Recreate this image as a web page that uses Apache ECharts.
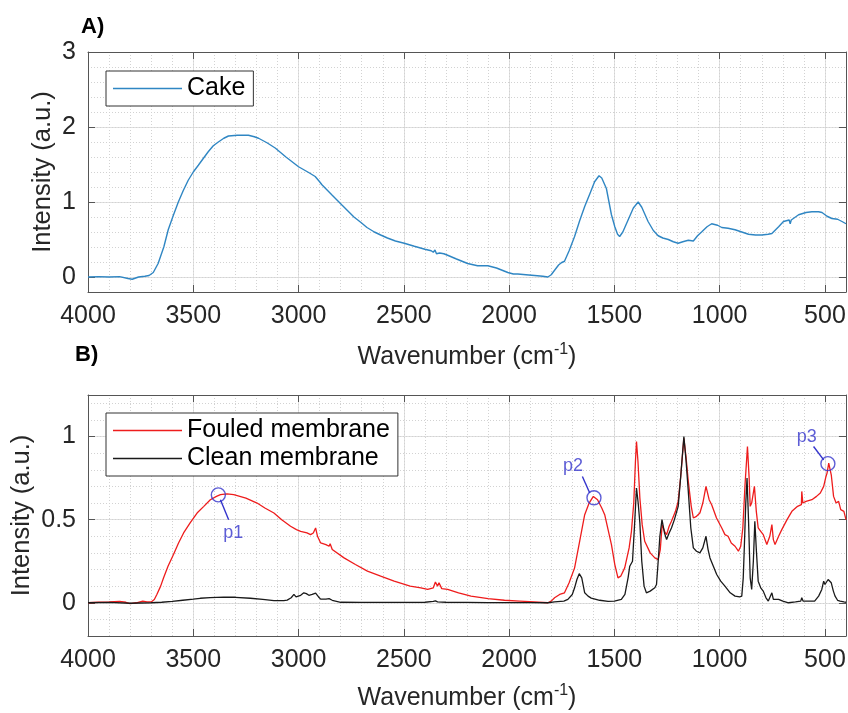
<!DOCTYPE html>
<html>
<head>
<meta charset="utf-8">
<script src="https://cdn.jsdelivr.net/npm/echarts@6.0.0/dist/echarts.min.js"></script>
<style>
html,body{margin:0;padding:0;background:#fff;}
#chart{width:848px;height:713px;}
</style>
</head>
<body>
<div id="chart"></div>
<script>
// ---------- DATA ----------
const xTickLabels = [4000, 3500, 3000, 2500, 2000, 1500, 1000, 500];
const yTickLabelsA = [0, 1, 2, 3];
const yTickLabelsB = [0, 0.5, 1];

// Panel A: Cake
const cakeX = [4000,3950,3900,3850,3810,3790,3760,3730,3710,3690,3667,3640,3619,3595,3571,3548,3524,3500,3476,3450,3429,3405,3381,3355,3333,3290,3238,3210,3190,3150,3111,3060,3000,2950,2921,2900,2889,2840,2794,2737,2705,2675,2640,2610,2578,2540,2498,2450,2400,2370,2360,2352,2345,2338,2330,2310,2292,2250,2197,2150,2101,2060,2006,1980,1959,1920,1879,1840,1816,1800,1784,1765,1752,1737,1715,1689,1665,1641,1615,1594,1573,1560,1538,1514,1498,1485,1475,1460,1435,1410,1387,1370,1340,1315,1292,1270,1244,1220,1197,1175,1149,1125,1105,1086,1060,1038,1010,990,960,927,895,863,830,800,770,752,720,697,670,665,660,625,590,562,530,514,490,467,440,419,400];
const cakeY = [0.00,0.005,0.0,0.005,-0.02,-0.03,0.0,0.01,0.02,0.06,0.18,0.40,0.63,0.82,1.00,1.15,1.29,1.40,1.49,1.59,1.67,1.75,1.80,1.85,1.88,1.89,1.89,1.87,1.85,1.79,1.72,1.60,1.47,1.39,1.34,1.27,1.23,1.09,0.96,0.80,0.73,0.66,0.60,0.56,0.52,0.48,0.45,0.41,0.37,0.35,0.33,0.36,0.31,0.33,0.32,0.31,0.29,0.24,0.18,0.15,0.15,0.12,0.06,0.04,0.04,0.03,0.02,0.01,0.0,0.03,0.09,0.16,0.19,0.21,0.35,0.54,0.75,0.94,1.12,1.27,1.35,1.32,1.18,0.83,0.67,0.57,0.54,0.60,0.76,0.92,1.00,0.93,0.74,0.62,0.55,0.52,0.50,0.47,0.45,0.47,0.49,0.48,0.55,0.60,0.67,0.71,0.69,0.66,0.65,0.63,0.60,0.57,0.56,0.56,0.57,0.58,0.67,0.74,0.76,0.71,0.76,0.83,0.86,0.87,0.87,0.86,0.81,0.78,0.77,0.74,0.71];

// Panel B: Fouled membrane
const fouledX = [4000,3950,3900,3850,3820,3800,3770,3740,3720,3700,3685,3673,3655,3641,3620,3594,3570,3546,3515,3482,3450,3419,3390,3371,3340,3308,3250,3197,3160,3117,3080,3038,3010,2990,2960,2943,2930,2919,2910,2895,2870,2855,2850,2840,2784,2730,2673,2610,2546,2470,2419,2387,2360,2350,2340,2333,2320,2292,2240,2181,2100,2022,1950,1880,1816,1800,1784,1760,1737,1715,1689,1665,1641,1620,1600,1580,1560,1546,1530,1514,1498,1483,1470,1451,1430,1419,1408,1400,1395,1388,1379,1368,1356,1330,1308,1292,1282,1273,1262,1252,1240,1229,1210,1197,1185,1170,1160,1149,1135,1125,1110,1094,1080,1065,1050,1038,1015,990,975,960,945,927,911,900,890,880,868,860,855,848,835,826,817,805,793,776,762,752,745,737,720,705,680,657,630,612,610,605,590,562,540,522,515,506,495,490,482,470,459,447,435,425,410,400];
const fouledY = [0,0.003,0.005,0.008,0.003,-0.005,0.0,0.01,0.005,0.005,0.02,0.05,0.10,0.15,0.22,0.29,0.36,0.42,0.48,0.54,0.58,0.62,0.64,0.65,0.655,0.65,0.63,0.60,0.57,0.54,0.50,0.46,0.44,0.43,0.42,0.41,0.42,0.45,0.40,0.36,0.35,0.34,0.355,0.32,0.27,0.23,0.19,0.16,0.13,0.10,0.09,0.08,0.09,0.125,0.10,0.12,0.085,0.08,0.06,0.04,0.025,0.015,0.01,0.005,0.0,0.01,0.03,0.05,0.06,0.12,0.21,0.37,0.53,0.60,0.64,0.62,0.57,0.53,0.44,0.35,0.23,0.15,0.16,0.21,0.33,0.43,0.60,0.85,0.97,0.85,0.63,0.47,0.37,0.30,0.27,0.26,0.32,0.47,0.43,0.41,0.46,0.49,0.55,0.61,0.76,0.99,0.88,0.73,0.58,0.51,0.52,0.54,0.60,0.70,0.62,0.59,0.51,0.45,0.41,0.40,0.36,0.34,0.31,0.34,0.45,0.70,0.94,0.75,0.58,0.60,0.70,0.55,0.45,0.43,0.41,0.35,0.40,0.47,0.38,0.35,0.40,0.44,0.50,0.55,0.58,0.59,0.67,0.60,0.61,0.62,0.64,0.66,0.65,0.70,0.76,0.78,0.84,0.77,0.64,0.60,0.61,0.56,0.55,0.50];

// Panel B: Clean membrane
const cleanX = [4000,3900,3800,3700,3650,3600,3550,3500,3467,3420,3355,3300,3229,3170,3117,3070,3054,3035,3022,3012,3006,2990,2975,2963,2951,2935,2919,2905,2895,2870,2855,2848,2840,2832,2800,2700,2600,2500,2400,2360,2350,2340,2300,2200,2100,2000,1900,1816,1784,1740,1721,1700,1689,1678,1667,1655,1641,1625,1610,1570,1530,1500,1467,1450,1435,1427,1414,1405,1395,1387,1379,1370,1359,1348,1330,1308,1300,1292,1284,1274,1262,1252,1240,1229,1215,1197,1185,1170,1160,1149,1137,1125,1110,1094,1080,1065,1055,1046,1030,1014,995,975,950,927,905,895,888,883,876,870,863,855,848,840,833,825,817,805,793,780,769,760,752,745,720,700,673,640,615,610,604,570,549,530,515,506,500,495,485,480,470,460,452,440,428,410,400];
const cleanY = [0,0.002,-0.003,0.0,0.003,0.008,0.015,0.022,0.027,0.031,0.034,0.033,0.027,0.02,0.013,0.013,0.016,0.03,0.05,0.035,0.025,0.045,0.06,0.055,0.045,0.05,0.058,0.035,0.022,0.022,0.025,0.033,0.015,0.006,0.003,0.002,0.002,0.002,0.003,0.008,0.012,0.005,0.003,0.002,0.001,0.001,0.001,0.0,0.005,0.01,0.02,0.05,0.09,0.14,0.175,0.15,0.06,0.04,0.028,0.015,0.008,0.01,0.02,0.05,0.15,0.22,0.25,0.45,0.69,0.60,0.48,0.25,0.10,0.06,0.07,0.09,0.11,0.25,0.40,0.50,0.42,0.38,0.42,0.45,0.50,0.58,0.76,1.0,0.86,0.67,0.45,0.33,0.31,0.30,0.33,0.40,0.32,0.27,0.22,0.17,0.13,0.10,0.06,0.04,0.035,0.04,0.15,0.33,0.60,0.75,0.50,0.15,0.08,0.25,0.49,0.30,0.13,0.09,0.07,0.03,0.01,0.02,0.06,0.02,0.02,0.01,0.0,0.005,0.01,0.03,0.01,0.01,0.01,0.04,0.08,0.13,0.11,0.10,0.14,0.15,0.12,0.07,0.04,0.015,0.01,0.005,0.003];

// Annotations (panel B)
const markNames = ['p1', 'p2', 'p3'];
const markX = [3381, 1597, 486];
const markY = [0.649, 0.632, 0.837];
const leaderNearX = [3371, 1617, 506];
const leaderNearY = [0.62, 0.66, 0.86];
const leaderFarX = [3332, 1652, 554];
const leaderFarY = [0.50, 0.76, 0.94];
const markLabelX = [3310, 1697, 586];
const markLabelY = [0.42, 0.82, 1.0];

// ---------- CHART ----------
const FONT = '"Liberation Sans", Arial, Helvetica, sans-serif';
const TXT = '#262626';
const BOX = '#555555';
const BLUE = '#3434cc';
const LEGEND_LINE = 'path://M0,0 L69,0 L69,1.4 L0,1.4 Z';
const pairs = (xs, ys) => xs.map((x, i) => [x, ys[i]]);

function xAxes(gridIndex) {
  const base = {gridIndex, type: 'value', min: 400, max: 4000, inverse: true};
  return [
    Object.assign({}, base, {
      position: 'bottom', minInterval: 500, maxInterval: 500,
      axisLine: {show: true, onZero: false, lineStyle: {color: BOX, width: 1}},
      axisTick: {show: true, inside: true, length: 7, lineStyle: {color: BOX}},
      axisLabel: {show: true, margin: 12, fontSize: 25, color: TXT, fontFamily: FONT,
        formatter: v => (xTickLabels.indexOf(Math.round(v)) >= 0 ? String(Math.round(v)) : '')},
      splitLine: {show: true, lineStyle: {color: '#e0e0e0', width: 1}},
      name: 'Wavenumber (cm{sup|-1})', nameLocation: 'middle', nameGap: gridIndex === 0 ? 50 : 47,
      nameMoveOverlap: false,
      nameTextStyle: {fontSize: 25, color: TXT, fontFamily: FONT, lineHeight: 30,
        rich: {sup: {fontSize: 16, color: TXT, fontFamily: FONT, verticalAlign: 'top', lineHeight: 16}}}
    }),
    Object.assign({}, base, {
      position: 'top', minInterval: 500, maxInterval: 500,
      axisLine: {show: true, onZero: false, lineStyle: {color: BOX, width: 1}},
      axisTick: {show: true, inside: true, length: 7, lineStyle: {color: BOX}},
      axisLabel: {show: false}, splitLine: {show: false}
    }),
    Object.assign({}, base, {
      interval: 100,
      axisLine: {show: false, onZero: false}, axisTick: {show: false}, axisLabel: {show: false},
      splitLine: {show: true, lineStyle: {color: '#d2d2d2', width: 1, type: [1, 2]}}
    })
  ];
}

function yAxes(gridIndex, min, max, major, minor, labels, gap) {
  const base = {gridIndex, type: 'value', min, max};
  const fmt = v => {
    for (const t of labels) if (Math.abs(v - t) < 1e-6) return String(t);
    return '';
  };
  return [
    Object.assign({}, base, {
      position: 'left', minInterval: major, maxInterval: major,
      axisLine: {show: true, onZero: false, lineStyle: {color: BOX, width: 1}},
      axisTick: {show: true, inside: true, length: 7, lineStyle: {color: BOX}},
      axisLabel: {show: true, margin: 12, fontSize: 25, color: TXT, fontFamily: FONT, formatter: fmt},
      splitLine: {show: true, lineStyle: {color: '#e0e0e0', width: 1}},
      name: 'Intensity (a.u.)', nameLocation: 'middle', nameGap: gap, nameMoveOverlap: false,
      nameTextStyle: {fontSize: 25.5, color: TXT, fontFamily: FONT, lineHeight: 30}
    }),
    Object.assign({}, base, {
      position: 'right', minInterval: major, maxInterval: major,
      axisLine: {show: true, onZero: false, lineStyle: {color: BOX, width: 1}},
      axisTick: {show: true, inside: true, length: 7, lineStyle: {color: BOX}},
      axisLabel: {show: false}, splitLine: {show: false}
    }),
    Object.assign({}, base, {
      interval: minor,
      axisLine: {show: false, onZero: false}, axisTick: {show: false}, axisLabel: {show: false},
      splitLine: {show: true, lineStyle: {color: '#d2d2d2', width: 1, type: [1, 2]}}
    })
  ];
}

const annotSeries = [];
annotSeries.push({
  type: 'scatter', xAxisIndex: 3, yAxisIndex: 3, z: 5, silent: true,
  symbol: 'circle', symbolSize: 14,
  itemStyle: {color: 'transparent', borderColor: BLUE, borderWidth: 1.4},
  data: pairs(markX, markY)
});
markNames.forEach((n, i) => {
  annotSeries.push({
    type: 'line', xAxisIndex: 3, yAxisIndex: 3, z: 5, silent: true, symbol: 'none',
    lineStyle: {color: BLUE, width: 1.4},
    data: [[leaderNearX[i], leaderNearY[i]], [leaderFarX[i], leaderFarY[i]]]
  });
});
annotSeries.push({
  type: 'scatter', xAxisIndex: 3, yAxisIndex: 3, z: 6, silent: true,
  symbol: 'circle', symbolSize: 1, itemStyle: {color: 'transparent'},
  label: {show: true, position: 'inside', fontSize: 18, color: BLUE, fontFamily: FONT,
    formatter: p => p.data.name},
  data: markNames.map((n, i) => ({name: n, value: [markLabelX[i], markLabelY[i]]}))
});

const legendBase = {
  orient: 'vertical', left: 106, padding: [5, 8, 5, 7],
  itemWidth: 69, itemHeight: 26, itemGap: 3, icon: LEGEND_LINE,
  backgroundColor: '#ffffff', borderColor: '#333333', borderWidth: 1,
  textStyle: {fontSize: 25, color: '#000', fontFamily: FONT}, selectedMode: false
};

const option = {
  animation: false,
  backgroundColor: '#ffffff',
  title: [
    {text: 'A)', left: 81, top: 16, padding: 0,
      textStyle: {fontSize: 22, fontWeight: 'bold', color: '#000', fontFamily: FONT}},
    {text: 'B)', left: 75, top: 344, padding: 0,
      textStyle: {fontSize: 22, fontWeight: 'bold', color: '#000', fontFamily: FONT}}
  ],
  grid: [
    {left: 88, top: 52, width: 758, height: 240, containLabel: false, outerBoundsMode: 'none'},
    {left: 88, top: 395, width: 758, height: 241, containLabel: false, outerBoundsMode: 'none'}
  ],
  legend: [
    Object.assign({}, legendBase, {data: ['Cake'], top: 71}),
    Object.assign({}, legendBase, {data: ['Fouled membrane', 'Clean membrane'], top: 413})
  ],
  xAxis: xAxes(0).concat(xAxes(1)),
  yAxis: yAxes(0, -0.2, 3, 1, 0.2, yTickLabelsA, 30).concat(yAxes(1, -0.2, 1.25, 0.5, 0.1, yTickLabelsB, 51)),
  series: [
    {name: 'Cake', type: 'line', xAxisIndex: 0, yAxisIndex: 0, symbol: 'none', showSymbol: false,
      lineStyle: {color: '#2f86c3', width: 1.4}, itemStyle: {color: '#2f86c3'},
      data: pairs(cakeX, cakeY)},
    {name: 'Fouled membrane', type: 'line', xAxisIndex: 3, yAxisIndex: 3, symbol: 'none', showSymbol: false,
      lineStyle: {color: '#ee1c1c', width: 1.3}, itemStyle: {color: '#ee1c1c'},
      data: pairs(fouledX, fouledY)},
    {name: 'Clean membrane', type: 'line', xAxisIndex: 3, yAxisIndex: 3, symbol: 'none', showSymbol: false,
      lineStyle: {color: '#1a1a1a', width: 1.3}, itemStyle: {color: '#1a1a1a'},
      data: pairs(cleanX, cleanY)}
  ].concat(annotSeries)
};

const chart = echarts.init(document.getElementById('chart'), null, {renderer: 'canvas'});
chart.setOption(option);
</script>
</body>
</html>
